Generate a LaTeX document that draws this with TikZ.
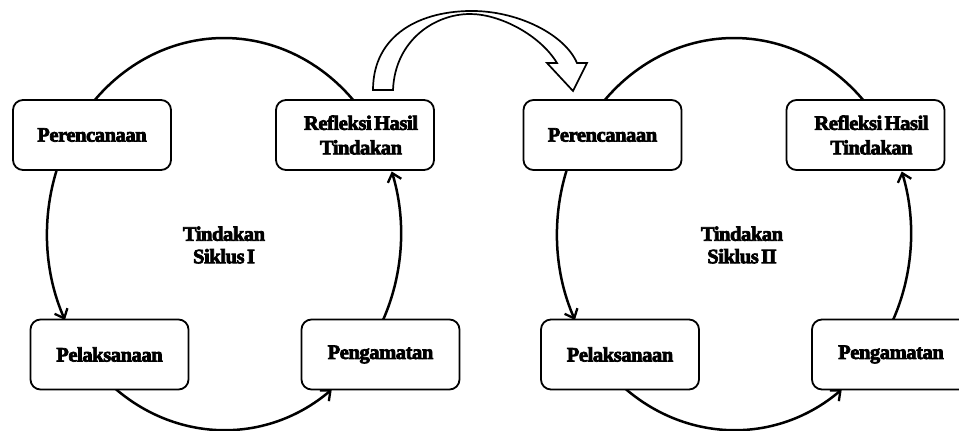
\documentclass[tikz,border=0pt]{standalone}
\usepackage{fontspec}
\setmainfont{Liberation Serif}
\newfontfamily\bx{Liberation Serif Bold}[FakeBold=3.5, LetterSpace=-2, WordSpace=0.5]
\usetikzlibrary{arrows.meta}
\tikzset{
  stagebox/.style={draw, line width=1.8pt, rounded corners=10pt, fill=white,
    minimum width=158pt, minimum height=70pt, align=center, inner sep=2pt,
    font=\bx\fontsize{20.5}{24.5}\selectfont},
  centertext/.style={align=center, font=\bx\fontsize{20.5}{22.5}\selectfont},
  cyc/.style={line width=2.5pt},
  cycarr/.style={line width=2.5pt, -{Straight Barb[length=8pt,width=14pt,line width=2.3pt]}},
  bigarrow/.style={draw, line width=1.7pt, fill=white, line join=miter}
}
\begin{document}
\begin{tikzpicture}[x=1pt,y=1pt]
\useasboundingbox[fill=white] (0,0) rectangle (959,-431);
\coordinate (cL) at (224,-234);
\coordinate (cR) at (734,-234);
% cycle arcs
\foreach \c in {cL,cR}{
  \draw[cyc] (\c) ++(43.1:177pt and 196pt) arc[start angle=43.1, end angle=136.9, x radius=177pt, y radius=196pt];
  \draw[cycarr] (\c) ++(160.9:177pt and 196pt) arc[start angle=160.9, end angle=206, x radius=177pt, y radius=196pt];
  \draw[cycarr] (\c) ++(232.3:177pt and 196pt) arc[start angle=232.3, end angle=307.5, x radius=177pt, y radius=196pt];
  \draw[cycarr] (\c) ++(334:177pt and 196pt) arc[start angle=334, end angle=378.6, x radius=177pt, y radius=196pt];
}
% boxes, cycle I
\node[stagebox] (per1) at (92,-135) {Perencanaan};
\node[stagebox] (ref1) at (355,-135) {\hspace*{12pt}Refleksi Hasil\\\hspace*{12pt}Tindakan};
\node[stagebox] (pel1) at (109.5,-354.5) {Pelaksanaan};
\node[stagebox] (pen1) at (380.5,-354.5) {Pengamatan};
\node[centertext] (t1) at (224,-245) {Tindakan\\Siklus I};
% boxes, cycle II
\node[stagebox] (per2) at (602.5,-135) {Perencanaan};
\node[stagebox] (ref2) at (865.5,-135) {\hspace*{12pt}Refleksi Hasil\\\hspace*{12pt}Tindakan};
\node[stagebox] (pel2) at (620,-354.5) {Pelaksanaan};
\node[stagebox] (pen2) at (891,-354.5) {Pengamatan};
\node[centertext] (t2) at (742,-245) {Tindakan\\Siklus II};
% big hollow curved arrow from cycle I to cycle II
\draw[bigarrow] (373,-90) .. controls (373,-35) and (420,-10) .. (475,-11)
  .. controls (520,-12) and (565,-35) .. (577,-63) -- (587,-63) -- (573,-91) -- (547,-63) -- (557,-63)
  .. controls (540,-35) and (500,-14) .. (470,-14)
  .. controls (435,-14) and (395,-40) .. (393,-90) -- cycle;
\end{tikzpicture}
\end{document}
